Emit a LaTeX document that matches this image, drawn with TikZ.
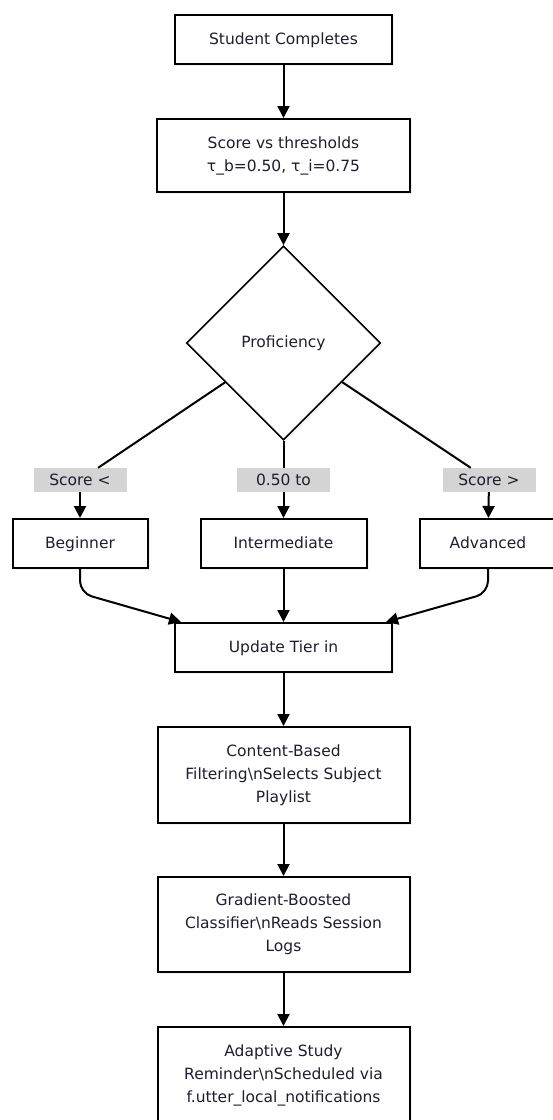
\documentclass[tikz,border=0pt]{standalone}
\usepackage{fontspec}
\setmainfont{DejaVu Sans}
\usepackage{tikz}
\usetikzlibrary{arrows.meta}
\usetikzlibrary{shapes.geometric}
\usetikzlibrary{shadows}
\definecolor{inkblue}{RGB}{30,30,50}
\definecolor{labgray}{RGB}{212,212,212}

\begin{document}
\begin{tikzpicture}[x=1pt,y=-1pt,font=\fontsize{15.5}{23}\selectfont,text=inkblue,
	oneline/.style={text height=13.5pt,text depth=3pt}]
	\useasboundingbox (0,0) rectangle (552,1120);
	\begin{scope}[every node/.style={rectangle,draw=black,line width=2pt,fill=white,
	              align=center,inner sep=0pt,
	              drop shadow={shadow xshift=2pt,shadow yshift=-2pt,fill=black!10}}]
		\node[oneline,minimum width=217pt,minimum height=49pt] (stu) at (283.5,39.5) {Student Completes};
		\node[minimum width=253pt,minimum height=73pt] (thr) at (283.5,155.5) {Score vs thresholds\\τ\_b=0.50, τ\_i=0.75};
		\node[diamond,aspect=1,minimum size=194pt,line width=1.6pt] (pro) at (283.5,343) {Proficiency};
		\node[oneline,minimum width=135pt,minimum height=49pt] (beg) at (80,543.5) {Beginner};
		\node[oneline,minimum width=166pt,minimum height=49pt] (int) at (283.5,543.5) {Intermediate};
		\node[oneline,minimum width=136pt,minimum height=49pt] (adv) at (488,543.5) {Advanced};
		\node[oneline,minimum width=217pt,minimum height=49pt] (upd) at (283.5,647.5) {Update Tier in};
		\node[minimum width=252pt,minimum height=96pt] (cbf) at (283.5,775) {Content-Based\\Filtering\textbackslash nSelects Subject\\Playlist};
		\node[minimum width=252pt,minimum height=95pt] (gbc) at (283.5,924.5) {Gradient-Boosted\\Classifier\textbackslash nReads Session\\Logs};
		\node[minimum width=252pt,minimum height=96pt] (rem) at (283.5,1075) {Adaptive Study\\Reminder\textbackslash nScheduled via\\f.utter\_local\_notifications};
	\end{scope}

	\begin{scope}[every node/.style={oneline,fill=labgray,minimum width=93pt,minimum height=24pt,inner sep=0pt}]
		\node (lo) at (80,480) {Score <};
		\node (mid) at (283.5,480) {0.50 to};
		\node (hi) at (489,480) {Score >};
	\end{scope}

	\begin{scope}[>={Triangle[length=12pt,width=12pt]},
	              line width=2pt,
	              every edge/.style={draw=black,line width=2pt}]
		\path (stu) edge[->] (thr);
		\path (thr) edge[->] (pro);
		\path (pro) edge (lo);
		\path (pro) edge (mid);
		\path (pro) edge (hi);
		\path (lo) edge[->] (beg);
		\path (mid) edge[->] (int);
		\path (hi) edge[->] (adv);
		\path (int) edge[->] (upd);
		\draw[->,rounded corners=12pt] (beg.south) -- ++(0,24) -- ([xshift=7pt]upd.north west);
		\draw[->,rounded corners=12pt] (adv.south) -- ++(0,24) -- ([xshift=-7pt]upd.north east);
		\path (upd) edge[->] (cbf);
		\path (cbf) edge[->] (gbc);
		\path (gbc) edge[->] (rem);
	\end{scope}
\end{tikzpicture}
\end{document}
